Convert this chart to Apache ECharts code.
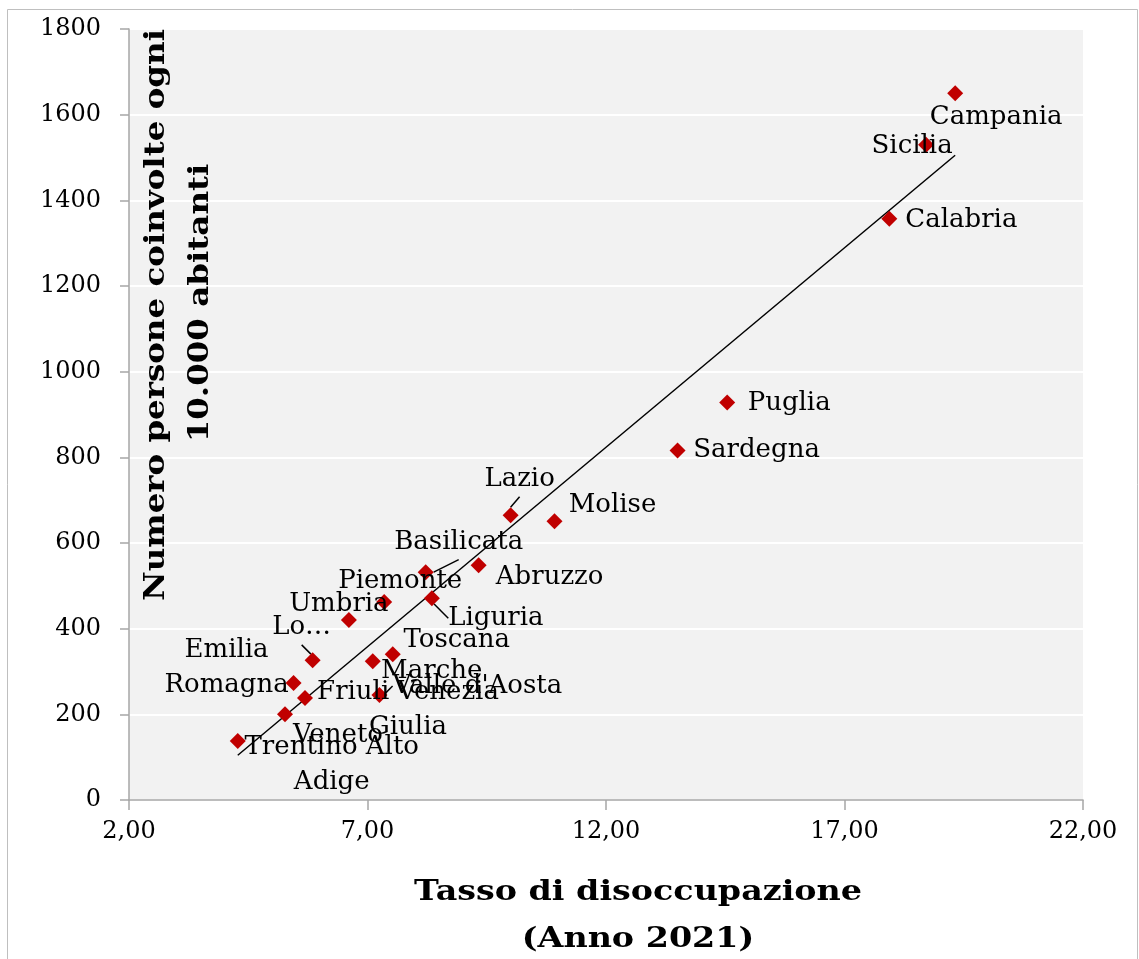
<!DOCTYPE html>
<html>
<head>
<meta charset="utf-8">
<script src="https://cdn.jsdelivr.net/npm/echarts@6/dist/echarts.min.js"></script>
<style>
  html, body { margin: 0; padding: 0; background: #ffffff; }
  #chart { width: 1139px; height: 959px; }
</style>
</head>
<body>
<div id="chart"></div>
<script>
// ---- Data ----
const regions = ['Campania', 'Sicilia', 'Calabria', 'Puglia', 'Sardegna', 'Molise', 'Lazio', 'Abruzzo',
  'Basilicata', 'Liguria', 'Piemonte', 'Umbria', 'Toscana', 'Marche', 'Lombardia', 'Emilia Romagna',
  'Friuli Venezia Giulia', "Valle d'Aosta", 'Veneto', 'Trentino Alto Adige'];
const labelTexts = ['Campania', 'Sicilia', 'Calabria', 'Puglia', 'Sardegna', 'Molise', 'Lazio', 'Abruzzo',
  'Basilicata', 'Liguria', 'Piemonte', 'Umbria', 'Toscana', 'Marche', 'Lo…', 'Emilia\nRomagna',
  'Friuli Venezia\nGiulia', "Valle d'Aosta", 'Veneto', 'Trentino Alto\nAdige'];
const unemploymentRate = [19.32, 18.71, 17.94, 14.54, 13.50, 10.92, 10.00, 9.33,
  8.22, 8.35, 7.35, 6.61, 7.53, 7.11, 5.85, 5.45,
  5.69, 7.25, 5.27, 4.28];
const peoplePer10k = [1650, 1530, 1357, 928, 816, 651, 665, 548,
  532, 471, 462, 420, 340, 324, 326, 273,
  238, 245, 200, 138];
const xAxisTicks = [2, 7, 12, 17, 22];
const yAxisTicks = [0, 200, 400, 600, 800, 1000, 1200, 1400, 1600, 1800];
const xTitle = 'Tasso di disoccupazione\n(Anno 2021)';
const yTitleLines = ['Numero persone coinvolte ogni', '10.000 abitanti'];

// ---- Label layout (pixel offsets of each label centre from its point) ----
const labelOffsets = [
  [41, 24], [-14, 2], [72, 1], [62, 1], [79, 0], [58, -16], [9, -36], [71, 12],
  [33, -30], [64, 20], [16, -21], [-10, -16], [64, -14], [59, 10], [-11, -33], [-67, -15],
  [103, 12], [98, -9], [53, 21], [94, 24]
];
const withLeader = { 'Lazio': true, 'Basilicata': true, 'Liguria': true, 'Lombardia': true, "Valle d'Aosta": true };
const yTitlePos = [[157, 315], [201, 303]];

// ---- Linear trend (least squares) ----
function linearFit(xs, ys) {
  const n = xs.length;
  let mx = 0, my = 0;
  for (let i = 0; i < n; i++) { mx += xs[i]; my += ys[i]; }
  mx /= n; my /= n;
  let sxy = 0, sxx = 0;
  for (let i = 0; i < n; i++) { sxy += (xs[i] - mx) * (ys[i] - my); sxx += (xs[i] - mx) * (xs[i] - mx); }
  const b = sxy / sxx;
  return { slope: b, intercept: my - b * mx };
}
const fit = linearFit(unemploymentRate, peoplePer10k);
const xMin = Math.min.apply(null, unemploymentRate);
const xMax = Math.max.apply(null, unemploymentRate);
const trendData = [[xMin, fit.intercept + fit.slope * xMin], [xMax, fit.intercept + fit.slope * xMax]];

const points = unemploymentRate.map((x, i) => ({
  name: regions[i],
  value: [x, peoplePer10k[i]],
  label: { formatter: labelTexts[i] },
  labelLine: { show: !!withLeader[regions[i]] }
}));

const FONT = 'DejaVu Serif';
const chart = echarts.init(document.getElementById('chart'), null, { renderer: 'canvas' });
chart.setOption({
  animation: false,
  backgroundColor: '#ffffff',
  grid: {
    left: 129, top: 29, right: 56, bottom: 159,
    show: true, backgroundColor: '#f2f2f2', borderWidth: 0
  },
  xAxis: {
    type: 'value',
    min: xAxisTicks[0], max: xAxisTicks[xAxisTicks.length - 1],
    interval: xAxisTicks[1] - xAxisTicks[0],
    axisLine: { show: true, lineStyle: { color: '#a6a6a6', width: 1.5 } },
    axisTick: { show: true, inside: false, length: 10, lineStyle: { color: '#a6a6a6', width: 1.5 } },
    splitLine: { show: false },
    axisLabel: {
      margin: 20, color: '#000', fontFamily: FONT, fontSize: 24,
      formatter: v => v.toFixed(2).replace('.', ',')
    }
  },
  yAxis: {
    type: 'value',
    min: yAxisTicks[0], max: yAxisTicks[yAxisTicks.length - 1],
    interval: yAxisTicks[1] - yAxisTicks[0],
    axisLine: { show: true, lineStyle: { color: '#a6a6a6', width: 1.5 } },
    axisTick: { show: true, inside: false, length: 9, lineStyle: { color: '#a6a6a6', width: 1.5 } },
    splitLine: { show: true, lineStyle: { color: '#ffffff', width: 2 } },
    axisLabel: { margin: 28, color: '#000', fontFamily: FONT, fontSize: 24, formatter: v => String(v) }
  },
  series: [
    {
      type: 'line',
      data: trendData,
      showSymbol: false,
      symbol: 'none',
      lineStyle: { color: '#000', width: 1.5 },
      silent: true,
      z: 2
    },
    {
      type: 'scatter',
      data: points,
      symbol: 'diamond',
      symbolSize: 16,
      itemStyle: { color: '#c00000', opacity: 1 },
      z: 3,
      label: {
        show: true,
        position: 'inside',
        align: 'center',
        verticalAlign: 'middle',
        color: '#000',
        opacity: 1,
        fontFamily: FONT,
        fontSize: 26,
        lineHeight: 35
      },
      labelLine: { lineStyle: { color: '#000', width: 1.5, opacity: 1 }, length2: 0 },
      labelLayout: function (params) {
        const o = labelOffsets[params.dataIndex];
        return { dx: o[0], dy: o[1] };
      }
    }
  ],
  graphic: [
    {
      type: 'rect',
      shape: { x: 7.5, y: 9.5, width: 1130, height: 960 },
      style: { fill: 'none', stroke: '#bfbfbf', lineWidth: 1 },
      silent: true, z: 0
    },
    ...yTitleLines.map((t, i) => ({
      type: 'text',
      x: yTitlePos[i][0], y: yTitlePos[i][1],
      rotation: Math.PI / 2,
      scaleX: 1.16,
      style: {
        text: t, fontFamily: FONT, fontWeight: 'bold', fontSize: 28,
        fill: '#000', align: 'center', verticalAlign: 'middle'
      },
      z: 10
    })),
    {
      type: 'text',
      x: 638, y: 916,
      scaleX: 1.19,
      style: {
        text: xTitle, fontFamily: FONT, fontWeight: 'bold', fontSize: 28,
        lineHeight: 47, fill: '#000', align: 'center', verticalAlign: 'middle'
      },
      z: 10
    }
  ]
});
</script>
</body>
</html>
